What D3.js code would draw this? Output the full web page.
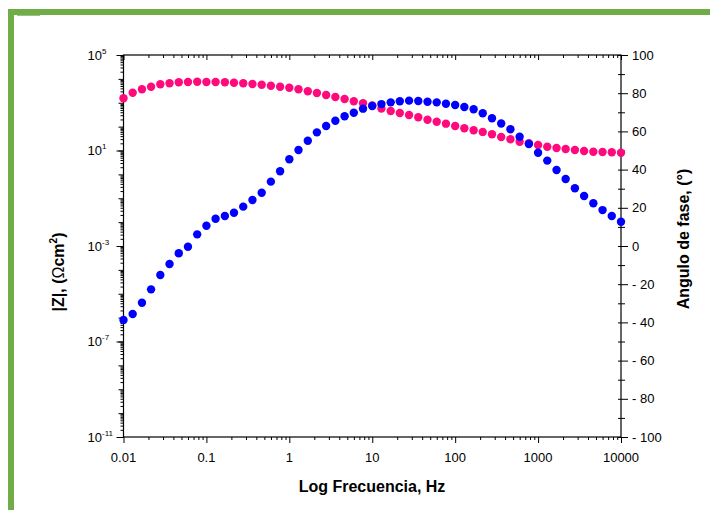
<!DOCTYPE html>
<html>
<head>
<meta charset="utf-8">
<script src="https://cdn.jsdelivr.net/npm/d3@7"></script>
<style>
  body { margin: 0; background: #fff; }
  svg { display: block; font-family: "Liberation Sans", Arial, sans-serif; }
</style>
</head>
<body>
<svg id="chart" width="710" height="510"></svg>
<script>
// frequency (Hz), 9 points per decade
var freq = [
  0.01, 0.0129, 0.0167, 0.0215, 0.0278, 0.0359, 0.0464, 0.0599, 0.0774,
  0.1, 0.129, 0.167, 0.215, 0.278, 0.359, 0.464, 0.599, 0.774,
  1, 1.29, 1.67, 2.15, 2.78, 3.59, 4.64, 5.99, 7.74,
  10, 12.9, 16.7, 21.5, 27.8, 35.9, 46.4, 59.9, 77.4,
  100, 129, 167, 215, 278, 359, 464, 599, 774,
  1000, 1290, 1670, 2150, 2780, 3590, 4640, 5990, 7740,
  10000
];
// |Z| (ohm cm2), pink, left axis
var zMod = [
  1540, 2640, 3660, 4700, 5930, 6530, 7190, 7400, 7620,
  7400, 7400, 7190, 6920, 6530, 6100, 5700, 5180, 4700,
  4270, 3660, 3020, 2560, 2110, 1740, 1440, 1150, 950,
  770, 575, 450, 372, 307, 246, 195, 161, 133,
  106, 85, 70, 60, 48, 37, 29.4, 23.4, 20,
  17, 14.4, 12.7, 11.6, 10.5, 9.5, 8.9, 8.7, 8.4,
  8.1
];
// phase angle (deg), blue, right axis
var phase = [
  -38.7, -35.6, -29.7, -22.7, -15.2, -9.4, -3.8, -0.4, 6.1,
  10.6, 14.3, 15.7, 17.4, 20.6, 24.1, 27.9, 33.7, 39.1,
  45.4, 50.3, 55.1, 59.5, 62.8, 65.6, 67.9, 69.8, 71.9,
  73.3, 74.3, 75.2, 75.8, 76.1, 75.9, 75.5, 75.2, 74.5,
  73.8, 72.8, 71.6, 69.5, 66.9, 64.1, 61.1, 57.2, 53.4,
  48.8, 44.7, 39.8, 35.1, 30.2, 26.2, 22.4, 18.8, 15.7,
  12.7
];
var xTicks = [0.01, 0.1, 1, 10, 100, 1000, 10000];
var xTickLabels = ['0.01', '0.1', '1', '10', '100', '1000', '10000'];
var zTickExp = [5, 1, -3, -7, -11];
var phaseTicks = [100, 80, 60, 40, 20, 0, -20, -40, -60, -80, -100];
var phaseMinor = [90, 70, 50, 30, 10, -10, -30, -50, -70, -90];

var m = { l: 123.5, r: 621, t: 55, b: 437 };
var svg = d3.select('#chart');

// green frame of the page
svg.append('path')
  .attr('d', 'M11,510 V12 H710')
  .attr('fill', 'none')
  .attr('stroke', '#70ad47')
  .attr('stroke-width', 6);
svg.append('line')
  .attr('x1', 17).attr('x2', 40).attr('y1', 15.5).attr('y2', 15.5)
  .attr('stroke', '#9fbf8a').attr('stroke-width', 1);

var x = d3.scaleLog().domain([0.01, 10000]).range([m.l, m.r]);
var yZ = d3.scaleLog().domain([1e-11, 1e5]).range([m.b, m.t]);
var yP = d3.scaleLinear().domain([-100, 100]).range([m.b, m.t]);

function minors(lo, hi) {
  var out = [];
  for (var e = lo; e < hi; e++)
    for (var k = 2; k < 10; k++) out.push(k * Math.pow(10, e));
  return out;
}
var decadesZ = d3.range(-11, 6).map(function(e) { return Math.pow(10, e); });

function axisGroup(axis, tx, ty) {
  var g = svg.append('g')
    .attr('transform', 'translate(' + tx + ',' + ty + ')')
    .call(axis);
  g.select('.domain').remove();
  g.selectAll('line').attr('stroke', '#000').attr('stroke-width', 1);
  g.selectAll('text').remove();
  return g;
}

// bottom
axisGroup(d3.axisBottom(x).tickValues(minors(-2, 4)).tickSize(3), 0, m.b);
axisGroup(d3.axisBottom(x).tickValues(xTicks).tickSize(6), 0, m.b);
// top (inward)
axisGroup(d3.axisBottom(x).tickValues(minors(-2, 4)).tickSize(3), 0, m.t);
axisGroup(d3.axisBottom(x).tickValues(xTicks).tickSize(5), 0, m.t);
// left
axisGroup(d3.axisLeft(yZ).tickValues(minors(-11, 5)).tickSize(3), m.l, 0);
axisGroup(d3.axisLeft(yZ).tickValues(decadesZ).tickSize(5), m.l, 0);
axisGroup(d3.axisLeft(yZ).tickValues(zTickExp.map(function(e) { return Math.pow(10, e); })).tickSize(7), m.l, 0);
// right
axisGroup(d3.axisRight(yP).tickValues(phaseMinor).tickSize(4), m.r, 0);
axisGroup(d3.axisRight(yP).tickValues(phaseTicks).tickSize(7), m.r, 0);
axisGroup(d3.axisLeft(yP).tickValues(phaseTicks.concat(phaseMinor)).tickSize(3), m.r, 0);

// frame
svg.append('rect')
  .attr('x', m.l).attr('y', m.t)
  .attr('width', m.r - m.l).attr('height', m.b - m.t)
  .attr('fill', 'none').attr('stroke', '#000').attr('stroke-width', 1.2);

// tick labels
svg.append('g').selectAll('text')
  .data(xTicks)
  .enter().append('text')
  .attr('x', function(d) { return x(d); })
  .attr('y', 461.5)
  .attr('text-anchor', 'middle')
  .attr('font-size', 13)
  .text(function(d, i) { return xTickLabels[i]; });

var zl = svg.append('g').selectAll('text')
  .data(zTickExp)
  .enter().append('text')
  .attr('y', function(d) { return yZ(Math.pow(10, d)) + 4.5; })
  .attr('font-size', 13);
zl.append('tspan').attr('x', 87.5).text('10');
zl.append('tspan')
  .attr('font-size', 8)
  .attr('dy', -6)
  .text(function(d) { return d; });

svg.append('g').selectAll('text')
  .data(phaseTicks)
  .enter().append('text')
  .attr('x', 632)
  .attr('y', function(d) { return yP(d) + 4.5; })
  .attr('font-size', 13)
  .text(function(d) { return d < 0 ? '- ' + (-d) : d; });

// axis titles
svg.append('text')
  .attr('x', 372).attr('y', 492)
  .attr('text-anchor', 'middle')
  .attr('font-size', 16).attr('font-weight', 'bold')
  .text('Log Frecuencia, Hz');

svg.append('text')
  .attr('transform', 'translate(689,239) rotate(-90)')
  .attr('text-anchor', 'middle')
  .attr('font-size', 16).attr('font-weight', 'bold')
  .text('Angulo de fase, (\u00b0)');

var zt = svg.append('text')
  .attr('transform', 'translate(64,272) rotate(-90)')
  .attr('text-anchor', 'middle')
  .attr('font-size', 16).attr('font-weight', 'bold');
zt.append('tspan').text('|Z|, (');
zt.append('tspan').attr('font-weight', 'normal').text('\u03a9');
zt.append('tspan').text('cm');
zt.append('tspan').attr('font-size', 10).attr('dy', -7).text('2');
zt.append('tspan').attr('dy', 7).text(')');

// series
svg.append('g').selectAll('circle')
  .data(freq)
  .enter().append('circle')
  .attr('cx', function(d) { return x(d); })
  .attr('cy', function(d, i) { return yZ(zMod[i]); })
  .attr('r', 4.2)
  .attr('fill', '#ff0a7c');

svg.append('g').selectAll('circle')
  .data(freq)
  .enter().append('circle')
  .attr('cx', function(d) { return x(d); })
  .attr('cy', function(d, i) { return yP(phase[i]); })
  .attr('r', 4.2)
  .attr('fill', '#0000ff');
</script>
</body>
</html>
